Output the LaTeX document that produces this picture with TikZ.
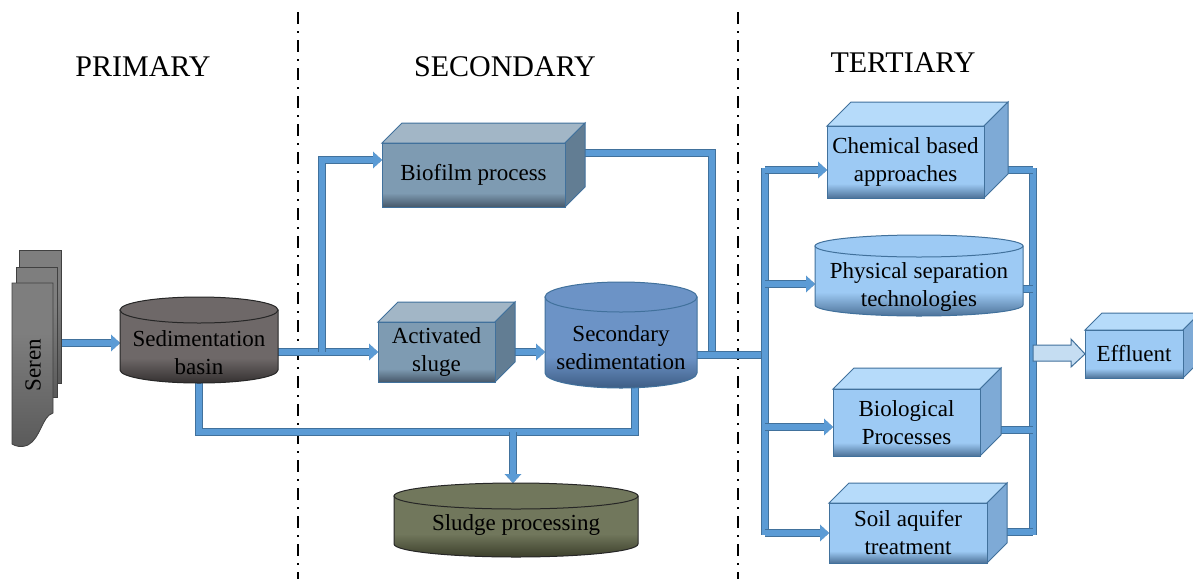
\documentclass[tikz,border=0pt]{standalone}
\usepackage{fontspec}
\setmainfont{Liberation Serif}
\usetikzlibrary{arrows.meta}
\definecolor{pipefill}{HTML}{5B9BD5}
\definecolor{pipeedge}{HTML}{41719C}
\definecolor{stlfront}{HTML}{7E9BB2}
\definecolor{stldark}{HTML}{46586A}
\definecolor{stltop}{HTML}{A2B6C6}
\definecolor{stlside}{HTML}{627D93}
\definecolor{lbfront}{HTML}{9DCAF4}
\definecolor{lbdark}{HTML}{4D7298}
\definecolor{lbtop}{HTML}{B6DBFA}
\definecolor{lbside}{HTML}{7EAAD6}
\definecolor{basinc}{HTML}{6E6868}
\definecolor{basind}{HTML}{343030}
\definecolor{secc}{HTML}{6C93C6}
\definecolor{secd}{HTML}{3E5D85}
\definecolor{sludc}{HTML}{71775C}
\definecolor{sludd}{HTML}{3C3F2B}
\definecolor{sheetc}{HTML}{7E7E7E}
\definecolor{sheetd}{HTML}{5A5A5A}
\definecolor{efffill}{HTML}{C5DDF2}
\pgfdeclareverticalshading{stlsh}{100bp}{color(0bp)=(stldark); color(25bp)=(stldark); color(36bp)=(stlfront); color(100bp)=(stlfront)}
\pgfdeclareverticalshading{lbsh}{100bp}{color(0bp)=(lbdark); color(25bp)=(lbdark); color(35bp)=(lbfront); color(100bp)=(lbfront)}
\pgfdeclareverticalshading{basinsh}{100bp}{color(0bp)=(basind); color(25bp)=(basind); color(42bp)=(basinc); color(100bp)=(basinc)}
\pgfdeclareverticalshading{secsh}{100bp}{color(0bp)=(secd); color(25bp)=(secd); color(42bp)=(secc); color(100bp)=(secc)}
\pgfdeclareverticalshading{sludsh}{100bp}{color(0bp)=(sludd); color(25bp)=(sludd); color(44bp)=(sludc); color(100bp)=(sludc)}
\pgfdeclareverticalshading{physsh}{100bp}{color(0bp)=(lbdark); color(25bp)=(lbdark); color(42bp)=(lbfront); color(100bp)=(lbfront)}
\pgfdeclareverticalshading{sheetsh}{100bp}{color(0bp)=(sheetd); color(25bp)=(sheetd); color(60bp)=(sheetc); color(100bp)=(sheetc)}
\tikzset{
  pipe/.style={line width=6pt, draw=pipefill, preaction={draw=pipeedge, line width=8pt}},
  tip/.style={-{Triangle[width=16pt,length=9pt]}},
  boxtext/.style={font=\fontsize{23}{28}\selectfont, align=center, text=black, inner sep=0pt},
  titletext/.style={font=\fontsize{30}{36}\selectfont, inner sep=0pt},
  divider/.style={line width=2pt, dash pattern=on 12pt off 7pt on 2pt off 7pt},
  stlfrontst/.style={draw=pipeedge, line width=1pt, shading=stlsh},
  stltopst/.style={draw=pipeedge, line width=1pt, fill=stltop},
  stlsidest/.style={draw=pipeedge, line width=1pt, fill=stlside},
  lbfrontst/.style={draw=pipeedge, line width=1pt, shading=lbsh},
  lbtopst/.style={draw=pipeedge, line width=1pt, fill=lbtop},
  lbsidest/.style={draw=pipeedge, line width=1pt, fill=lbside},
  basinbody/.style={draw=black!85, line width=1pt, shading=basinsh},
  basintop/.style={draw=black!85, line width=1pt, fill=basinc},
  secbody/.style={draw=pipeedge, line width=1pt, shading=secsh},
  sectop/.style={draw=pipeedge, line width=1pt, fill=secc},
  sludbody/.style={draw=black!85, line width=1pt, shading=sludsh},
  sludtop/.style={draw=black!85, line width=1pt, fill=sludc},
  physbody/.style={draw=pipeedge, line width=1pt, shading=physsh},
  phystop/.style={draw=pipeedge, line width=1pt, fill=lbfront},
  sheet/.style={draw=black!75, line width=0.8pt, shading=sheetsh},
}
% cuboid: name, cx, cy, w, h, depth, style prefix, text
\newcommand\cub[8]{%
  \draw[#7topst] (#2-#4/2,#3+#5/2) -- ++(#6,#6) -- ++(#4,0) -- ++(-#6,-#6) -- cycle;
  \draw[#7sidest] (#2+#4/2,#3+#5/2) -- ++(#6,#6) -- ++(0,-#5) -- ++(-#6,-#6) -- cycle;
  \node[#7frontst, boxtext, outer sep=0pt, minimum width=#4, minimum height=#5] (#1) at (#2,#3) {#8};
}
% cylinder: name, cx, top centre y, bottom centre y, rx, ry, style prefix, text, text y
\newcommand\cyl[9]{%
  \node[inner sep=0pt, outer sep=0pt, minimum width={2*#5}, minimum height={#4-#3+2*#6}] (#1) at (#2,{-(#3+#4)/2}) {};
  \path[#7body] (#2-#5,-#3) -- (#2-#5,-#4) arc[start angle=180, end angle=360, x radius=#5, y radius=#6] -- (#2+#5,-#3) -- cycle;
  \path[#7top] (#2,-#3) ellipse[x radius=#5, y radius=#6];
  \node[boxtext] (#1-t) at (#2,-#9) {#8};
}
\begin{document}
\begin{tikzpicture}[x=1pt,y=1pt]
\useasboundingbox (0,0) rectangle (1193,-579);
\fill[white] (0,0) rectangle (1193,-579);

% titles
\node[titletext] (tprim) at (143,-67) {PRIMARY};
\node[titletext] (tsec) at (505,-67) {SECONDARY};
\node[titletext] (tter) at (903,-63) {TERTIARY};

% dividers
\coordinate (d1a) at (298,-12);
\coordinate (d1b) at (298,-579);
\coordinate (d2a) at (738,-12);
\coordinate (d2b) at (738,-579);
\draw[divider] (d1a) -- (d1b);
\draw[divider] (d2a) -- (d2b);

% invisible anchors for shapes (defined before connectors)
\node[inner sep=0pt, outer sep=0pt, minimum width=49, minimum height=196] (seren) at (36.5,-348) {};
\node[inner sep=0pt, outer sep=0pt, minimum width=158, minimum height=86] (basin) at (199,-340) {};
\node[inner sep=0pt, outer sep=0pt, minimum width=183, minimum height=64] (bio) at (473.5,-175) {};
\node[inner sep=0pt, outer sep=0pt, minimum width=117, minimum height=60] (act) at (436.5,-352) {};
\node[inner sep=0pt, outer sep=0pt, minimum width=152, minimum height=106] (secsed) at (621,-335) {};
\node[inner sep=0pt, outer sep=0pt, minimum width=244, minimum height=74] (sludge) at (516,-520) {};
\node[inner sep=0pt, outer sep=0pt, minimum width=157, minimum height=72] (chem) at (905.5,-162) {};
\node[inner sep=0pt, outer sep=0pt, minimum width=208, minimum height=81] (phys) at (919,-275.5) {};
\node[inner sep=0pt, outer sep=0pt, minimum width=147, minimum height=67] (biol) at (906.5,-422.5) {};
\node[inner sep=0pt, outer sep=0pt, minimum width=158, minimum height=60] (soil) at (908,-533) {};
\node[inner sep=0pt, outer sep=0pt, minimum width=98, minimum height=48] (eff) at (1134,-354) {};

\coordinate (j1) at (322,-352);
\coordinate (j2) at (712,-355);
\coordinate (tL) at (765,-355);
\coordinate (tR) at (1033,-352);

% connectors
\draw[pipe, tip] (seren.east |- 0,-343) -- (basin.west |- 0,-343);
\draw[pipe, tip] (basin.center |- act.west) -- (act.west);
\draw[pipe, tip] (j1) |- (bio.west |- 0,-160);
\draw[pipe] (bio.center |- 0,-153) -| (j2);
\draw[pipe, tip] (act.center) -- (secsed.west |- act.center);
\draw[pipe] (secsed.center |- tL) -- (tL);
\draw[pipe] ([xshift=14pt]secsed.center) |- (basin.center |- 0,-432) -- (basin.center);
\draw[pipe, tip] ([xshift=-3pt]sludge.north |- 0,-432) -- ([xshift=-3pt]sludge.north);
\draw[pipe] (tL |- 0,-168) -- (tL |- 0,-535);
\draw[pipe, tip] (tL |- 0,-170) -- (chem.west |- 0,-170);
\draw[pipe, tip] (tL |- 0,-284) -- (phys.west |- 0,-284);
\draw[pipe, tip] (tL |- 0,-427) -- (biol.west |- 0,-427);
\draw[pipe, tip] (tL |- soil.west) -- (soil.west);
\draw[pipe] (tR |- 0,-168) -- (tR |- 0,-535);
\draw[pipe] (chem.center |- 0,-170) -- (tR |- 0,-170);
\draw[pipe] (phys.center |- 0,-289) -- (tR |- 0,-289);
\draw[pipe] (biol.center |- 0,-430) -- (tR |- 0,-430);
\draw[pipe] (soil.center |- 0,-532) -- (tR |- 0,-532);
\draw[draw=pipeedge, line width=1pt, fill=efffill] (tR |- 0,-345) -- (1071,-345) -- (1071,-339) -- (eff.west) -- (1071,-367) -- (1071,-361) -- (tR |- 0,-361) -- cycle;

% Seren stacked sheets
\draw[sheet] (19,-250) rectangle (61,-383);
\draw[sheet] (16,-267) rectangle (57,-397);
\draw[sheet] (12,-283) -- (53,-283) -- (53,-413) .. controls (42,-416) and (41,-438) .. (28,-445) .. controls (21,-448) and (15,-446) .. (12,-444) -- cycle;
\node[boxtext, rotate=90] (seren-t) at (33,-365) {Seren};

% cylinders
\cyl{basinc}{199}{310}{370}{79}{13}{basin}{Sedimentation\\basin}{353}
\cyl{secsedc}{621}{297}{373}{76}{15}{sec}{Secondary\\sedimentation}{348}
\cyl{sludgec}{516}{496}{544}{122}{13}{slud}{Sludge processing}{525}
\cyl{physc}{919}{246}{305}{104}{11}{phys}{Physical separation\\technologies}{287}

% cuboids
\cub{bioc}{473.5}{-175}{183}{64}{20}{stl}{Biofilm process}
\cub{actc}{436.5}{-352}{117}{60}{20}{stl}{Activated\\sluge}
\cub{chemc}{905.5}{-162}{157}{72}{24}{lb}{Chemical based\\approaches}
\cub{biolc}{906.5}{-422.5}{147}{67}{21}{lb}{Biological\\Processes}
\cub{soilc}{908}{-533}{158}{60}{20}{lb}{Soil aquifer\\treatment}
\cub{effc}{1134}{-354}{98}{48}{17}{lb}{Effluent}
\end{tikzpicture}
\end{document}
